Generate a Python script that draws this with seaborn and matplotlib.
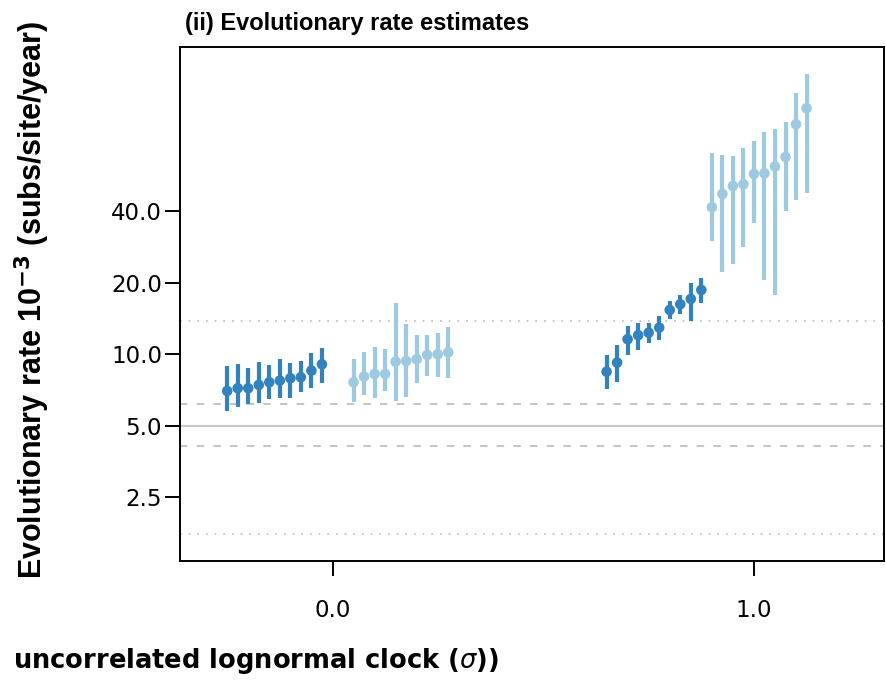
import numpy as np
import pandas as pd
import seaborn as sns
import matplotlib.pyplot as plt

# colours of the two series
dark_blue = '#3282bd'
light_blue = '#9ecae1'

# x positions (sigma + dodge)
x_dark_0 = [-0.251, -0.226, -0.201, -0.176, -0.151, -0.126, -0.101, -0.076, -0.051, -0.026]
x_light_0 = [0.049, 0.074, 0.099, 0.124, 0.149, 0.174, 0.199, 0.224, 0.249, 0.274]
x_dark_1 = [0.650, 0.675, 0.700, 0.725, 0.750, 0.775, 0.800, 0.825, 0.850, 0.875]
x_light_1 = [0.900, 0.925, 0.950, 0.975, 1.000, 1.025, 1.050, 1.075, 1.100, 1.125]

# rate estimates (x 10^-3) with lower / upper interval
dark_0_mid = [7.02, 7.21, 7.21, 7.44, 7.64, 7.76, 7.94, 8.02, 8.55, 9.09]
dark_0_lo = [5.80, 6.03, 6.19, 6.27, 6.49, 6.54, 6.54, 6.93, 7.25, 7.56]
dark_0_hi = [8.97, 9.09, 8.75, 9.33, 9.03, 9.55, 9.18, 9.39, 10.12, 10.68]

light_0_mid = [7.64, 8.07, 8.28, 8.28, 9.33, 9.39, 9.55, 9.95, 10.02, 10.22]
light_0_lo = [6.33, 6.75, 6.54, 7.02, 6.39, 6.60, 7.56, 8.12, 8.07, 7.94]
light_0_hi = [9.55, 10.22, 10.79, 10.52, 16.5, 13.44, 12.08, 12.08, 12.28, 13.02]

dark_1_mid = [8.46, 9.24, 11.59, 12.05, 12.35, 12.97, 15.39, 16.27, 17.13, 18.69]
dark_1_lo = [7.14, 7.68, 9.95, 10.45, 11.15, 11.51, 14.07, 14.76, 13.88, 16.52]
dark_1_hi = [9.95, 10.97, 13.22, 13.61, 13.61, 14.57, 16.85, 17.80, 19.94, 20.94]

light_1_mid = [41.7, 47.4, 51.2, 52.1, 57.5, 57.9, 61.8, 67.8, 93.2, 108.8]
light_1_lo = [29.9, 22.2, 24.0, 28.3, 35.7, 20.6, 17.8, 40.3, 44.7, 47.7]
light_1_hi = [70.3, 69.2, 68.7, 73.8, 79.2, 86.7, 88.7, 95.5, 125.8, 151.3]

# reference lines
true_rate = 5.0
dashed_levels = [6.19, 4.12]
dotted_levels = [13.8, 1.76]

y_ticks = [2.5, 5.0, 10.0, 20.0, 40.0]
x_ticks = [0.0, 1.0]

series = [
    (x_dark_0, dark_0_mid, dark_0_lo, dark_0_hi, dark_blue),
    (x_light_0, light_0_mid, light_0_lo, light_0_hi, light_blue),
    (x_dark_1, dark_1_mid, dark_1_lo, dark_1_hi, dark_blue),
    (x_light_1, light_1_mid, light_1_lo, light_1_hi, light_blue),
]

sns.set_style('ticks')
plt.rcParams['font.family'] = ['DejaVu Sans']
plt.rcParams['text.color'] = 'black'
plt.rcParams['axes.labelcolor'] = 'black'
plt.rcParams['xtick.color'] = 'black'
plt.rcParams['ytick.color'] = 'black'

fig = plt.figure(figsize=(8.86, 6.81), dpi=100)
ax = fig.add_axes([0.2032, 0.1762, 0.7946, 0.7548])

ax.axhline(true_rate, color='#c8c8c8', linewidth=1.5, zorder=1)
for lev in dashed_levels:
    ax.axhline(lev, color='#bbbbbb', linewidth=1.2, linestyle=(0, (4.5, 5.5)), zorder=1)
for lev in dotted_levels:
    ax.axhline(lev, color='#bbbbbb', linewidth=1.2, linestyle=(0, (1, 4.2)), zorder=1)

for xs, mid, lo, hi, col in series:
    df = pd.DataFrame({'x': xs, 'mid': mid, 'lo': lo, 'hi': hi})
    ax.vlines(df['x'], df['lo'], df['hi'], color=col, linewidth=3.0, zorder=2)
    sns.scatterplot(data=df, x='x', y='mid', color=col, s=58, edgecolor='none',
                    ax=ax, zorder=3, legend=False)

ax.set_yscale('log', base=2)
ax.set_ylim(1.35, 197)
ax.set_xlim(-0.363, 1.309)
ax.set_yticks(y_ticks)
ax.set_yticklabels([f'{t:.1f}' for t in y_ticks])
ax.minorticks_off()
ax.set_xticks(x_ticks)
ax.set_xticklabels([f'{t:.1f}' for t in x_ticks])
ax.tick_params(axis='both', labelsize=16.5, length=11, width=1.4, color='black')
ax.tick_params(axis='y', pad=2)
ax.tick_params(axis='x', pad=16)
for sp in ax.spines.values():
    sp.set_visible(True)
    sp.set_linewidth(1.4)
    sp.set_color('black')

ax.set_xlabel('')
ax.set_ylabel('')
fig.text(0.036, 1 - 300 / 681, r'Evolutionary rate 10$^{\mathbf{-3}}$ (subs/site/year)',
         family=['Liberation Sans', 'DejaVu Sans'], fontsize=22, fontweight='bold',
         rotation=90, ha='center', va='center')
fig.text(0.0147, 1 - 668 / 681, r'uncorrelated lognormal clock ($\sigma$))',
         family=['DejaVu Sans'], fontsize=18.5, fontweight='bold', ha='left', va='baseline')
fig.text(185 / 886, 1 - 30 / 681, '(ii) Evolutionary rate estimates',
         family=['Liberation Sans', 'DejaVu Sans'], fontsize=17,
         fontweight='bold', ha='left', va='baseline')

fig.savefig('out.png', dpi=100)
